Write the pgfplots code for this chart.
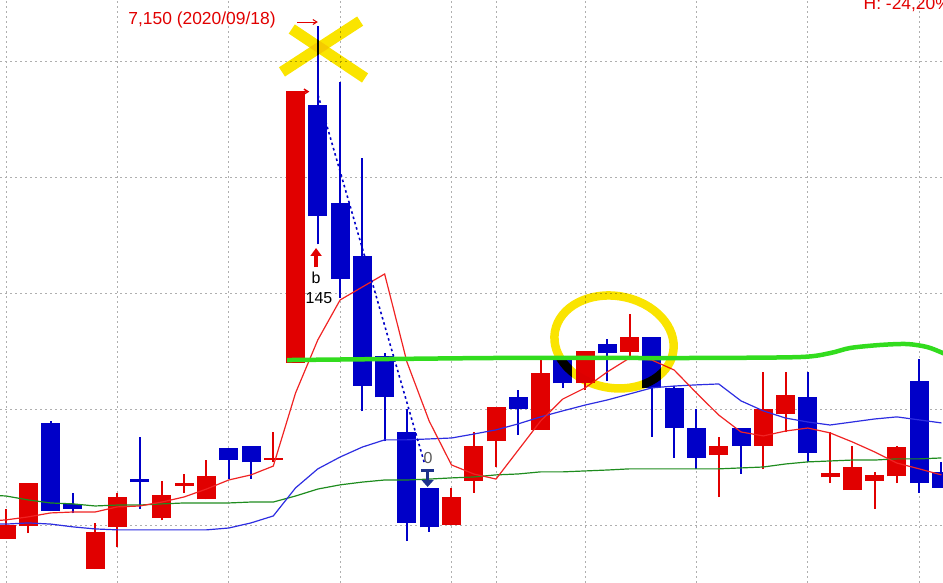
\documentclass[border=0pt]{standalone}
\usepackage{pgfplots}
\pgfplotsset{compat=1.18}
\usepackage{pgfplotstable}
\usepackage{fontspec}
\setmainfont{Liberation Sans}
\usetikzlibrary{arrows.meta}

\definecolor{cred}{RGB}{225,0,0}
\definecolor{cblue}{RGB}{0,0,200}
\definecolor{mared}{RGB}{240,35,35}
\definecolor{mablue}{RGB}{45,45,225}
\definecolor{magreen}{RGB}{30,140,30}
\definecolor{hlgreen}{RGB}{50,220,30}
\definecolor{hlyellow}{RGB}{250,228,0}
\definecolor{gridgray}{RGB}{175,175,175}
\definecolor{navy}{RGB}{30,50,140}

% up (red) candles: index, open, high, low, close
\pgfplotstableread{
i open high low close
0 4940 5070 4940 5000
1 4995 5180 4965 5180
4 4810 5010 4810 4970
5 4990 5140 4905 5120
7 5030 5190 5020 5130
8 5170 5220 5140 5180
9 5110 5280 5110 5210
12 5280 5400 5270 5290
13 5700 6870 5700 6870
20 5000 5160 5000 5120
21 5190 5400 5140 5340
22 5360 5510 5250 5510
24 5410 5720 5410 5655
26 5610 5750 5580 5750
28 5745 5910 5710 5810
32 5300 5380 5120 5340
34 5340 5660 5240 5500
35 5480 5660 5400 5560
37 5205 5400 5180 5222
38 5150 5340 5150 5250
39 5190 5230 5070 5215
40 5210 5340 5180 5335
}\upcandles

% down (blue) candles
\pgfplotstableread{
i open high low close
2 5440 5450 5060 5060
3 5090 5140 5050 5070
6 5200 5380 5070 5185
10 5330 5330 5200 5280
11 5340 5340 5200 5270
14 6810 7150 6210 6330
15 6390 6910 5980 6060
16 6160 6580 5490 5600
17 5730 5740 5360 5550
18 5400 5500 4930 5010
19 5160 5160 4970 4990
23 5550 5580 5390 5500
25 5720 5720 5590 5610
27 5780 5800 5620 5740
29 5810 5810 5380 5590
30 5590 5600 5290 5420
31 5420 5500 5240 5290
33 5420 5420 5220 5340
36 5550 5660 5270 5310
41 5620 5715 5140 5180
42 5230 5270 5160 5160
}\downcandles

% moving averages: index, ma5, ma20, ma60
\pgfplotstableread{
i ma5 ma20 ma60
-1 5015 5005 5130
0 5022 5004 5125
1 5035 5009 5108
2 5052 5004 5095
3 5056 4992 5091
4 5056 4983 5082
5 5078 4979 5086
6 5082 4979 5086
7 5099 4979 5091
8 5121 4979 5095
9 5155 4979 5095
10 5194 4987 5095
11 5216 5009 5099
12 5254 5039 5099
13 5569 5160 5125
14 5798 5242 5155
15 5970 5293 5173
16 6026 5336 5185
17 6082 5367 5194
18 5703 5367 5194
19 5448 5371 5198
20 5259 5375 5203
21 5220 5392 5207
22 5198 5410 5216
23 5323 5436 5220
24 5448 5466 5229
25 5543 5492 5229
26 5591 5517 5233
27 5660 5539 5237
28 5720 5565 5242
29 5711 5591 5242
30 5668 5599 5242
31 5569 5604 5242
32 5474 5608 5242
33 5401 5535 5246
34 5384 5492 5250
35 5405 5461 5263
36 5418 5444 5272
37 5397 5431 5276
38 5358 5444 5280
39 5315 5457 5280
40 5267 5466 5285
41 5242 5453 5285
42 5216 5440 5289
}\mas

\begin{document}
\begin{tikzpicture}
\begin{axis}[
  scale only axis, width=943bp, height=583bp,
  xmin=-0.27, xmax=42.07, ymin=4750, ymax=7263,
  axis line style={draw=none}, tick style={draw=none},
  xtick={0,5,10,15,20,22,26,31,36,41},
  ytick={5000,5500,6000,6500,7000},
  xticklabels={}, yticklabels={},
  grid=major,
  grid style={gridgray, line width=1bp, dash pattern=on 2bp off 3bp},
  clip=true,
  candle/.style={draw=none, no markers, forget plot},
]
% wicks
\addplot[candle,
  error bars/.cd, y dir=plus, y explicit, error mark=none,
  error bar style={draw=cred, line width=2bp}]
  table[x=i, y=low, y error plus expr=\thisrow{high}-\thisrow{low}] {\upcandles};
\addplot[candle,
  error bars/.cd, y dir=plus, y explicit, error mark=none,
  error bar style={draw=cblue, line width=2bp}]
  table[x=i, y=low, y error plus expr=\thisrow{high}-\thisrow{low}] {\downcandles};
% bodies
\addplot[candle,
  error bars/.cd, y dir=plus, y explicit, error mark=none,
  error bar style={draw=cred, line width=19bp}]
  table[x=i, y=open, y error plus expr=\thisrow{close}-\thisrow{open}] {\upcandles};
\addplot[candle,
  error bars/.cd, y dir=plus, y explicit, error mark=none,
  error bar style={draw=cblue, line width=19bp}]
  table[x=i, y=close, y error plus expr=\thisrow{open}-\thisrow{close}] {\downcandles};
% moving averages
\addplot[magreen, line width=1.2bp, mark=none] table[x=i, y=ma60] {\mas};
\addplot[mablue, line width=1.2bp, mark=none] table[x=i, y=ma20] {\mas};
\addplot[mared, line width=1.2bp, mark=none] table[x=i, y=ma5] {\mas};
% dotted trend line
\addplot[cblue, line width=1.6bp, dash pattern=on 2.5bp off 3bp, mark=none] coordinates {(14.01,6853) (18.81,5259)};
% annotations
\draw[cred, line width=1bp, -{Straight Barb[length=4bp,width=5bp]}] (axis cs:13.07,7168) -- (axis cs:14.0,7168);
\draw[cred, line width=1.5bp, -{Straight Barb[length=4bp,width=5bp]}] (axis cs:12.9,6868) -- (axis cs:13.62,6868);
\draw[cred, line width=3.5bp, -{Triangle[length=8bp,width=11bp]}] (axis cs:13.92,6112) -- (axis cs:13.92,6194);
\draw[navy, line width=3bp] (axis cs:18.65,5237) -- (axis cs:19.21,5237);
\draw[navy, line width=3bp, -{Triangle[length=7bp,width=12bp]}] (axis cs:18.93,5237) -- (axis cs:18.93,5164);
\node[text=cred, font=\fontsize{17.5}{18}\selectfont] at (axis cs:8.80,7177) {7,150 (2020/09/18)};
\node[text=cred, font=\fontsize{17.5}{18}\selectfont, anchor=base west] at (axis cs:38.35,7222) {H: -24,20\%};
\node[text=black, font=\fontsize{16}{16}\selectfont] at (axis cs:13.92,6065) {b};
\node[text=black, font=\fontsize{16}{16}\selectfont] at (axis cs:14.05,5978) {145};
\node[text=black!65, font=\fontsize{16}{16}\selectfont] at (axis cs:18.95,5289) {0};
% yellow hand-drawn marks
\draw[hlyellow, line width=11bp, blend mode=multiply] (axis cs:12.83,7138) -- (axis cs:16.12,6927);
\draw[hlyellow, line width=11bp, blend mode=multiply] (axis cs:12.39,6953) -- (axis cs:15.90,7172);
\draw[hlyellow, line width=8.5bp, blend mode=multiply] (axis cs:27.30,5789) ellipse[x radius=60bp, y radius=46bp, rotate=-10];
% green hand-drawn line
\addplot[hlgreen, line width=4.5bp, smooth, tension=0.5, mark=none] coordinates {
(12.62,5711) (17.69,5716) (22.18,5720) (26.67,5720) (31.16,5720) (35.65,5724)
(37.00,5741) (37.90,5763) (39.25,5776) (40.46,5780) (41.36,5767) (42.07,5741) (42.8,5711)};
\end{axis}
\pgfresetboundingbox
\path[use as bounding box] (current axis.south west) rectangle (current axis.north east);
\end{tikzpicture}
\end{document}
